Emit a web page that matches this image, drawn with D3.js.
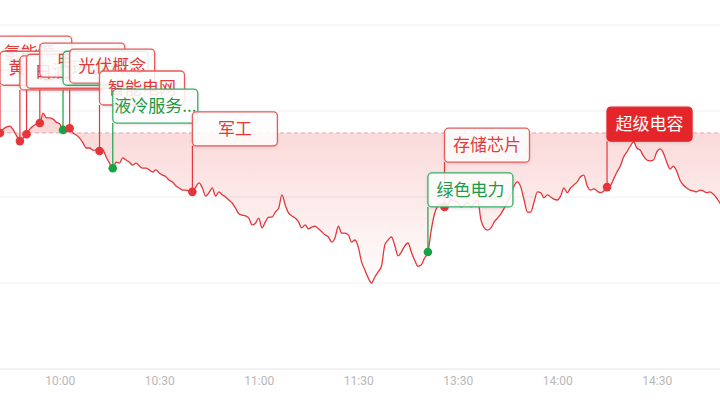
<!DOCTYPE html>
<html><head><meta charset="utf-8">
<script src="https://cdn.jsdelivr.net/npm/d3@7/dist/d3.min.js"></script>
<style>
body{margin:0;background:#fff;}
svg{display:block;font-family:"Noto Sans CJK SC","Noto Sans",sans-serif;}
</style>
</head><body>
<svg id="chart" width="720" height="405"></svg>
<script>
// ---- data ----
const startIndex = 8; // trading-minute index of first price (0 = 09:30)
const prices = [
3335.0,3334.6,3335.2,3335.3,3334.9,3335.8,3336.3,3336.5,3335.6,3334.2,
3333.0,3333.7,3334.6,3335.8,3336.5,3337.0,3337.2,3339.5,3338.4,3338.4,
3338.1,3337.4,3337.0,3335.6,3335.8,3336.0,3334.9,3334.4,3333.7,3332.6,
3331.4,3331.4,3330.9,3330.9,3330.7,3330.9,3329.3,3327.9,3326.7,3328.1,
3327.9,3329.1,3328.6,3328.1,3327.4,3327.9,3327.2,3326.7,3326.7,3326.3,
3325.8,3326.3,3325.6,3325.1,3324.7,3323.9,3323.5,3322.6,3322.1,3321.6,
3321.6,3321.4,3321.2,3322.3,3323.3,3322.1,3320.2,3321.0,3322.1,3320.2,
3321.2,3320.5,3320.0,3319.3,3318.6,3317.4,3316.1,3315.8,3315.6,3315.1,
3313.5,3313.9,3315.1,3312.8,3314.2,3315.3,3315.3,3316.5,3317.4,3320.5,
3318.1,3316.3,3315.6,3315.1,3314.2,3312.8,3313.5,3312.6,3313.0,3313.2,
3312.6,3311.9,3311.2,3310.7,3309.5,3310.5,3313.2,3311.6,3311.6,3311.2,
3309.5,3310.0,3308.4,3304.9,3303.0,3301.2,3300.0,3301.4,3302.6,3303.9,
3308.8,3310.0,3310.7,3308.8,3306.3,3307.2,3308.6,3309.3,3307.2,3305.3,
3303.9,3304.2,3305.8,3307.2,3312.3,3316.1,3317.9,3318.4,3317.7,3318.1,
3319.3,3319.1,3318.8,3317.7,3318.1,3318.6,3317.7,3318.4,3319.3,3314.6,
3312.8,3312.3,3312.8,3314.2,3315.1,3316.1,3317.4,3318.8,3320.5,3322.6,
3323.5,3322.3,3319.3,3316.5,3316.5,3318.8,3321.2,3321.0,3319.8,3320.5,
3320.0,3319.5,3319.3,3320.2,3322.1,3321.0,3322.1,3322.8,3323.5,3324.7,
3325.1,3322.6,3321.6,3321.9,3321.4,3321.0,3321.4,3322.3,3322.6,3324.2,
3325.8,3327.2,3329.3,3330.5,3331.8,3332.8,3331.4,3330.9,3329.5,3328.6,
3328.4,3328.6,3330.5,3331.2,3330.2,3328.1,3326.5,3327.2,3326.0,3323.9,
3322.8,3322.1,3321.6,3321.4,3321.2,3321.6,3321.4,3321.0,3321.2,3320.7,
3319.8,3318.6,3317.4
];
const prevClose = 3334.9;
const gridValues = [3360, 3340, 3320, 3300, 3280];
const sessionMinutes = 240;
const tickIndex = [30, 60, 90, 120, 150, 180, 210];
const tickLabels = ["10:00", "10:30", "11:00", "11:30", "13:30", "14:00", "14:30"];

const eventIndex = [8, 12, 18, 20, 24, 31, 33, 42, 46, 70, 141, 146, 195];
const eventNames = ["氢能源","黄金概念","锂电池","白酒概念","电子烟","环境治理","光伏概念","智能电网","液冷服务器","军工","绿色电力","存储芯片","超级电容"];
const eventDir   = ["up","up","up","up","up","down","up","up","down","up","down","up","up"];
const eventLevel = [3357.4,3353.9,3352.8,3353.2,3355.8,3353.9,3354.4,3349.3,3345.1,3339.8,3325.6,3336.0,3340.9];
const highlighted = "超级电容";

// ---- chart ----
const W = 720, H = 405;
const svg = d3.select("#chart");
const x = d3.scaleLinear().domain([0, sessionMinutes]).range([-39.8, 756.3]);
const y = d3.scaleLinear().domain([3280, 3360]).range([369, 25]);

const RED = "#e5353a", GREEN = "#17a245";
const series = prices.map((p, k) => ({i: startIndex + k, p}));
const byIndex = new Map(series.map(d => [d.i, d.p]));

const defs = svg.append("defs");
const grad = defs.append("linearGradient").attr("id","fillGrad")
  .attr("gradientUnits","userSpaceOnUse").attr("x1",0).attr("x2",0)
  .attr("y1", y(3341)).attr("y2", y(3298));
grad.append("stop").attr("offset","0%").attr("stop-color","#e83a3a").attr("stop-opacity",0.22);
grad.append("stop").attr("offset","100%").attr("stop-color","#e83a3a").attr("stop-opacity",0);
const sh = defs.append("filter").attr("id","shadow").attr("x","-20%").attr("y","-30%").attr("width","140%").attr("height","160%");
sh.append("feDropShadow").attr("dx",0).attr("dy",1).attr("stdDeviation",1.5).attr("flood-color","#000").attr("flood-opacity",0.12);
defs.append("clipPath").attr("id","plotClip").append("rect").attr("x",0).attr("y",0).attr("width",W).attr("height",H);

// grid
svg.append("g").selectAll("line").data(gridValues).join("line")
  .attr("x1",0).attr("x2",W).attr("y1",d=>y(d)).attr("y2",d=>y(d))
  .attr("stroke",(d,i)=> i===gridValues.length-1 ? "#e6e6e6" : "#efefef").attr("stroke-width",1);

const plot = svg.append("g").attr("clip-path","url(#plotClip)");

const curve = d3.curveMonotoneX;
plot.append("path").datum(series)
  .attr("d", d3.area().x(d=>x(d.i)).y0(y(prevClose)).y1(d=>y(d.p)).curve(curve))
  .attr("fill","url(#fillGrad)");

plot.append("line").attr("x1",0).attr("x2",W).attr("y1",y(prevClose)).attr("y2",y(prevClose))
  .attr("stroke","#e8a7a7").attr("stroke-width",1).attr("stroke-dasharray","4,3");

plot.append("path").datum(series)
  .attr("d", d3.line().x(d=>x(d.i)).y(d=>y(d.p)).curve(curve))
  .attr("fill","none").attr("stroke",RED).attr("stroke-width",1.3);

// axis
const axis = d3.axisBottom(x).tickValues(tickIndex).tickFormat((d,i)=>tickLabels[i]).tickSize(0).tickPadding(7);
const ax = svg.append("g").attr("transform",`translate(0,${y(3280)})`).call(axis);
ax.select(".domain").remove();
ax.selectAll("text").attr("fill","#b8b8b8").attr("font-size",12).attr("font-family","Roboto, 'Noto Sans', sans-serif");

// events
const BOX_W = 85, BOX_H = 34;
const events = eventIndex.map((ix, k) => ({
  ix, name: eventNames[k], dir: eventDir[k], level: eventLevel[k], p: byIndex.get(ix)
}));
const col = d => d.dir === "up" ? RED : GREEN;

const ev = plot.append("g");
ev.selectAll("line.stem").data(events).join("line").attr("class","stem")
  .attr("x1",d=>x(d.ix)).attr("x2",d=>x(d.ix))
  .attr("y1",d=>y(d.p)).attr("y2",d=>y(d.level)+BOX_H)
  .attr("stroke",col).attr("stroke-width",1.2);
ev.selectAll("circle").data(events).join("circle")
  .attr("cx",d=>x(d.ix)).attr("cy",d=>y(d.p)).attr("r",4.3).attr("fill",col);

const boxes = ev.selectAll("g.box").data(events).join("g").attr("class","box")
  .attr("transform",d=>`translate(${x(d.ix)},${y(d.level)})`);
boxes.append("rect").attr("width",BOX_W).attr("height",BOX_H).attr("rx",4)
  .attr("fill",d=> d.name===highlighted ? "#e4262b" : "#fff")
  .attr("fill-opacity",d=> d.name===highlighted ? 1 : 0.86)
  .attr("stroke",d=> d.name===highlighted ? "#e4262b" : (d.dir==="up" ? "#e95a5a" : "#35b066"))
  .attr("stroke-width",1.3).attr("filter","url(#shadow)");
boxes.append("text").attr("x",BOX_W/2).attr("y",BOX_H/2).attr("dy","0.36em")
  .attr("text-anchor","middle").attr("font-size",17)
  .attr("fill",d=> d.name===highlighted ? "#fff" : (d.dir==="up" ? "#e23a3a" : "#1b9a48"))
  .text(d=> d.name.length > 4 ? d.name.slice(0,4) + "..." : d.name);
</script>
</body></html>
